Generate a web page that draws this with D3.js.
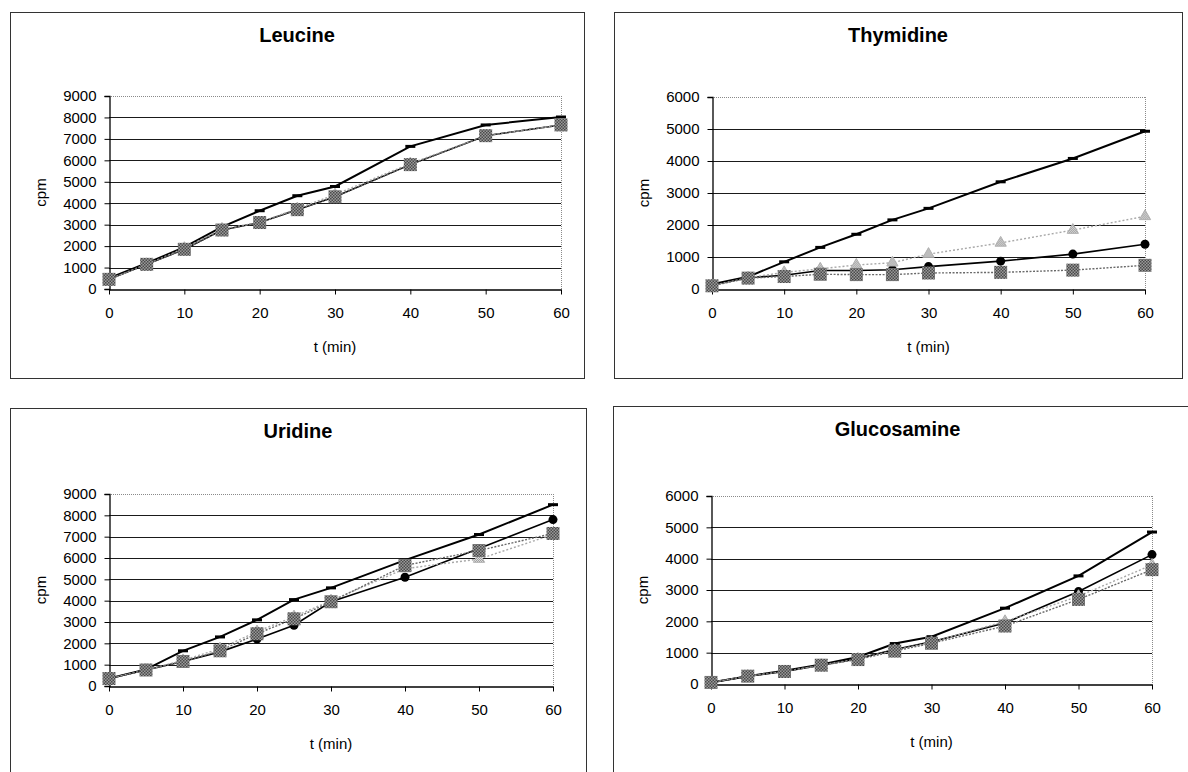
<!DOCTYPE html>
<html>
<head>
<meta charset="utf-8">
<script src="https://cdn.jsdelivr.net/npm/d3@7"></script>
<style>
  html, body { margin: 0; padding: 0; background: #fff; }
  svg { display: block; font-family: "Liberation Sans", Arial, sans-serif; }
</style>
</head>
<body>
<svg id="chart" width="1188" height="772"></svg>
<script>
// ---------------- data ----------------
const timePoints = [0, 5, 10, 15, 20, 25, 30, 40, 50, 60];
const xTickValues = [0, 10, 20, 30, 40, 50, 60];
const xAxisTitle = "t (min)";
const yAxisTitle = "cpm";
const panelTitles = ["Leucine", "Thymidine", "Uridine", "Glucosamine"];
const yMaxima = [9000, 6000, 9000, 6000];

// series: dash = black line with bar markers, circle = black line with dots,
// triangle = light grey dotted, square = grey dotted with big squares
const leucineDash     = [500, 1200, 1950, 2900, 3650, 4350, 4780, 6650, 7650, 8020];
const leucineCircle   = [450, 1150, 1850, 2750, 3100, 3700, 4300, 5800, 7150, 7650];
const leucineTriangle = [450, 1150, 1900, 2800, 3100, 3750, 4400, 5850, 7150, 7650];
const leucineSquare   = [450, 1150, 1850, 2750, 3100, 3700, 4300, 5800, 7150, 7650];

const thymidineDash     = [150, 380, 850, 1300, 1710, 2160, 2520, 3350, 4080, 4930];
const thymidineCircle   = [130, 350, 430, 580, 580, 600, 700, 870, 1090, 1400];
const thymidineTriangle = [110, 350, 520, 630, 750, 820, 1090, 1440, 1840, 2270];
const thymidineSquare   = [100, 340, 390, 460, 450, 450, 500, 520, 590, 740];

const uridineDash     = [350, 780, 1650, 2300, 3100, 4050, 4600, 5900, 7100, 8500];
const uridineCircle   = [350, 750, 1150, 1600, 2200, 2850, 3950, 5100, 6450, 7800];
const uridineTriangle = [350, 750, 1200, 1750, 2550, 3250, 4000, 5500, 5950, 7100];
const uridineSquare   = [350, 750, 1150, 1650, 2450, 3150, 3950, 5650, 6350, 7150];

const glucosamineDash     = [50, 250, 420, 620, 860, 1290, 1510, 2420, 3450, 4850];
const glucosamineCircle   = [50, 250, 400, 600, 810, 1100, 1350, 1950, 2950, 4130];
const glucosamineTriangle = [50, 250, 400, 600, 800, 1080, 1330, 2000, 2800, 3800];
const glucosamineSquare   = [50, 250, 400, 600, 780, 1050, 1300, 1850, 2700, 3650];

const panelSeries = [
  [leucineDash, leucineCircle, leucineTriangle, leucineSquare],
  [thymidineDash, thymidineCircle, thymidineTriangle, thymidineSquare],
  [uridineDash, uridineCircle, uridineTriangle, uridineSquare],
  [glucosamineDash, glucosamineCircle, glucosamineTriangle, glucosamineSquare]
];

// ---------------- layout ----------------
const layouts = [
  { frame: [10, 12, 584, 378],   plot: { x0: 109, x1: 561,  yTop: 96,  yBot: 289 } },
  { frame: [614, 12, 1182, 378], plot: { x0: 712, x1: 1145, yTop: 97,  yBot: 289 } },
  { frame: [10, 408, 586, 800],  plot: { x0: 109, x1: 553,  yTop: 494, yBot: 686 } },
  { frame: [613, 406, 1200, 800],plot: { x0: 711, x1: 1152, yTop: 496, yBot: 684 } }
];

const seriesStyles = [
  { kind: "dash",     stroke: "#000",    width: 2,   dash: null },
  { kind: "circle",   stroke: "#000",    width: 1.6, dash: null },
  { kind: "triangle", stroke: "#a8a8a8", width: 1.4, dash: "2,2" },
  { kind: "square",   stroke: "#6a6a6a", width: 1.4, dash: "2,1.5" }
];

const svg = d3.select("#chart");
const defs = svg.append("defs");
const pat = defs.append("pattern").attr("id", "checker")
  .attr("width", 3).attr("height", 3).attr("patternUnits", "userSpaceOnUse");
pat.append("rect").attr("width", 3).attr("height", 3).attr("fill", "#9a9a9a");
pat.append("rect").attr("width", 1.5).attr("height", 1.5).attr("fill", "#4a4a4a");
pat.append("rect").attr("x", 1.5).attr("y", 1.5).attr("width", 1.5).attr("height", 1.5).attr("fill", "#4a4a4a");

const triPat = defs.append("pattern").attr("id", "trichk")
  .attr("width", 2).attr("height", 2).attr("patternUnits", "userSpaceOnUse");
triPat.append("rect").attr("width", 2).attr("height", 2).attr("fill", "#e0e0e0");
triPat.append("rect").attr("width", 1).attr("height", 1).attr("fill", "#9a9a9a");
triPat.append("rect").attr("x", 1).attr("y", 1).attr("width", 1).attr("height", 1).attr("fill", "#9a9a9a");

panelTitles.forEach((title, i) => {
  const L = layouts[i];
  const P = L.plot;
  const g = svg.append("g");

  // frame
  g.append("rect")
    .attr("x", L.frame[0] + 0.5).attr("y", L.frame[1] + 0.5)
    .attr("width", L.frame[2] - L.frame[0]).attr("height", L.frame[3] - L.frame[1])
    .attr("fill", "none").attr("stroke", "#333").attr("stroke-width", 1);

  const x = d3.scaleLinear().domain([0, 60]).range([P.x0, P.x1]);
  const y = d3.scaleLinear().domain([0, yMaxima[i]]).range([P.yBot, P.yTop]);
  const yTicks = d3.range(0, yMaxima[i] + 1, 1000);

  // plot border (top & right dotted grey)
  g.append("line").attr("x1", P.x0).attr("x2", P.x1)
    .attr("y1", Math.round(y(yMaxima[i])) + 0.5).attr("y2", Math.round(y(yMaxima[i])) + 0.5)
    .attr("stroke", "#8a8a8a").attr("stroke-dasharray", "1,1");
  g.append("line").attr("x1", Math.round(P.x1) + 0.5).attr("x2", Math.round(P.x1) + 0.5)
    .attr("y1", P.yTop).attr("y2", P.yBot)
    .attr("stroke", "#8a8a8a").attr("stroke-dasharray", "1,1");

  // gridlines
  g.selectAll(".grid").data(yTicks.filter(v => v > 0 && v < yMaxima[i])).enter()
    .append("line")
    .attr("x1", P.x0).attr("x2", P.x1)
    .attr("y1", d => Math.round(y(d)) + 0.5).attr("y2", d => Math.round(y(d)) + 0.5)
    .attr("stroke", "#1a1a1a").attr("stroke-width", 1);

  // y axis
  const yAxis = d3.axisLeft(y).tickValues(yTicks).tickSize(5).tickPadding(8)
    .tickFormat(d3.format("d"));
  const ya = g.append("g").attr("transform", `translate(${Math.round(P.x0) + 0.5},0)`).call(yAxis);
  ya.select(".domain").attr("stroke", "#000").attr("stroke-width", 1.3);
  ya.selectAll(".tick line").attr("stroke", "#000");
  ya.selectAll(".tick text").attr("font-size", 15).attr("fill", "#000")
    .attr("font-family", "Liberation Sans, Arial, sans-serif");

  // x axis
  const xAxis = d3.axisBottom(x).tickValues(xTickValues).tickSize(5).tickPadding(13)
    .tickSizeOuter(0);
  const xa = g.append("g").attr("transform", `translate(0,${Math.round(P.yBot) + 0.5})`).call(xAxis);
  xa.select(".domain").attr("stroke", "#000").attr("stroke-width", 1.3);
  xa.selectAll(".tick line").attr("stroke", "#000");
  xa.selectAll(".tick text").attr("font-size", 15).attr("fill", "#000")
    .attr("font-family", "Liberation Sans, Arial, sans-serif");

  // title
  g.append("text")
    .attr("x", (L.frame[0] + Math.min(L.frame[2], 1182)) / 2)
    .attr("y", L.frame[1] + 30)
    .attr("text-anchor", "middle").attr("font-size", 20).attr("font-weight", "bold")
    .text(title);

  // axis titles
  g.append("text")
    .attr("x", (P.x0 + P.x1) / 2).attr("y", P.yBot + 63)
    .attr("text-anchor", "middle").attr("font-size", 15).text(xAxisTitle);
  g.append("text")
    .attr("transform", `translate(${P.x0 - 63},${(P.yTop + P.yBot) / 2}) rotate(-90)`)
    .attr("text-anchor", "middle").attr("font-size", 15).text(yAxisTitle);

  // series
  const line = d3.line().x((d, k) => x(timePoints[k])).y(d => y(d));
  panelSeries[i].forEach((vals, s) => {
    const st = seriesStyles[s];
    const sg = g.append("g");
    sg.append("path").datum(vals).attr("d", line)
      .attr("fill", "none").attr("stroke", st.stroke).attr("stroke-width", st.width)
      .attr("stroke-dasharray", st.dash);
    const pts = sg.selectAll(".m").data(vals).enter();
    if (st.kind === "dash") {
      pts.append("rect")
        .attr("x", (d, k) => x(timePoints[k]) - 5).attr("y", d => y(d) - 1.5)
        .attr("width", 10).attr("height", 3).attr("fill", "#000");
    } else if (st.kind === "circle") {
      pts.append("circle")
        .attr("cx", (d, k) => x(timePoints[k])).attr("cy", d => y(d))
        .attr("r", 4.5).attr("fill", "#000");
    } else if (st.kind === "triangle") {
      const tri = d3.symbol().type(d3.symbolTriangle).size(55);
      pts.append("path").attr("d", tri)
        .attr("transform", (d, k) => `translate(${x(timePoints[k])},${y(d)})`)
        .attr("fill", "url(#trichk)").attr("stroke", "#b0b0b0").attr("stroke-width", 1);
    } else {
      pts.append("rect")
        .attr("x", (d, k) => x(timePoints[k]) - 6.5).attr("y", d => y(d) - 6.5)
        .attr("width", 13).attr("height", 13).attr("fill", "url(#checker)");
    }
  });
});
</script>
</body>
</html>
